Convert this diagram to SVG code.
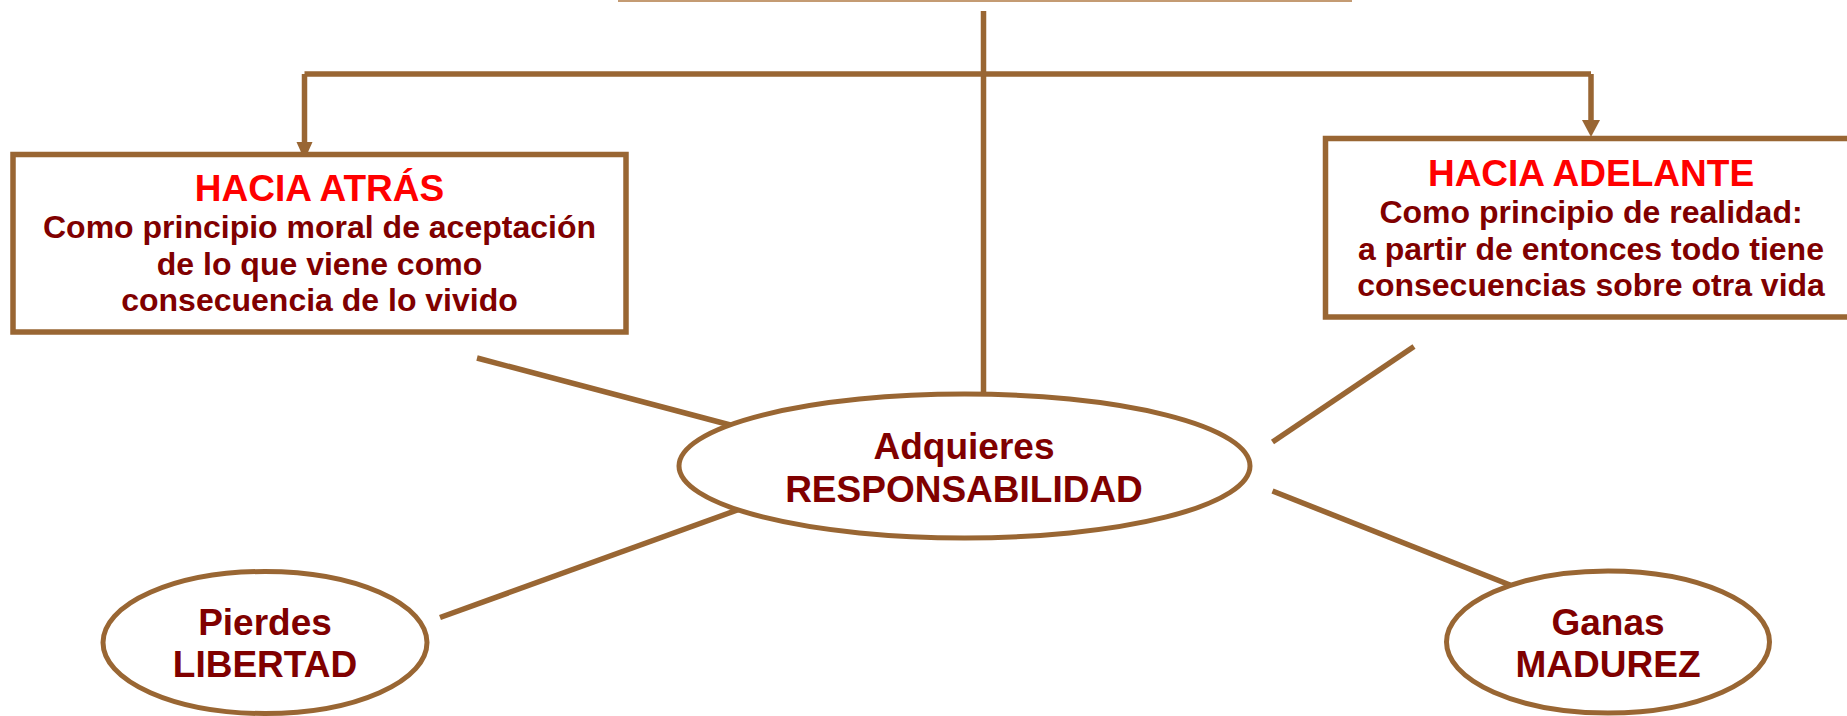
<svg xmlns="http://www.w3.org/2000/svg" width="1847" height="716" viewBox="0 0 1847 716">
<style>
.ln{stroke:#996633;stroke-width:5.5;fill:none}
.box{stroke:#996633;stroke-width:5.5;fill:#ffffff}
.ell{stroke:#996633;stroke-width:5;fill:#ffffff}
text{font-family:"Liberation Sans",Arial,sans-serif;font-weight:bold;text-anchor:middle}
.t{fill:#ff0000;font-size:37px}
.b{fill:#800000;font-size:32px}
.e{fill:#800000;font-size:37px}
</style>
<defs>
<marker id="arr" markerUnits="userSpaceOnUse" markerWidth="18" markerHeight="18" viewBox="0 0 18 18" refX="9" refY="17" orient="auto-start-reverse">
<path d="M1,0 L17,0 L9,17 Z" fill="#996633"/>
</marker>
</defs>
<rect width="1847" height="716" fill="#ffffff"/>
<line x1="618" y1="1" x2="1352" y2="1" stroke="#b07a45" stroke-width="1.5"/>
<g id="connectors">
<line class="ln" x1="983.5" y1="11" x2="983.5" y2="392"/>
<path class="ln" d="M304.5,74 L1591,74"/>
<line class="ln" x1="304.5" y1="74" x2="304.5" y2="142" />
<path d="M296.5,142 L312.5,142 L304.5,160 Z" fill="#996633"/>
<line class="ln" x1="1591" y1="74" x2="1591" y2="120"/>
<path d="M1582,120 L1600,120 L1591,137 Z" fill="#996633"/>
<line class="ln" x1="477" y1="358" x2="736" y2="426.5"/>
<line class="ln" x1="440" y1="617.5" x2="743" y2="508"/>
<line class="ln" x1="1272.5" y1="442" x2="1414" y2="346.5"/>
<line class="ln" x1="1272.5" y1="491" x2="1510" y2="585"/>
</g>
<g id="node-atras">
<rect class="box" x="13" y="154.5" width="613" height="177.5"/>
<text class="t" x="319.5" y="201">HACIA ATRÁS</text>
<text class="b" x="319.5" y="238">Como principio moral de aceptación</text>
<text class="b" x="319.5" y="275">de lo que viene como</text>
<text class="b" x="319.5" y="311">consecuencia de lo vivido</text>
</g>
<g id="node-adelante">
<rect class="box" x="1325.5" y="138.5" width="532" height="178.5"/>
<text class="t" x="1591" y="186">HACIA ADELANTE</text>
<text class="b" x="1591" y="223">Como principio de realidad:</text>
<text class="b" x="1591" y="259.5">a partir de entonces todo tiene</text>
<text class="b" x="1591" y="296">consecuencias sobre otra vida</text>
</g>
<g id="node-responsabilidad">
<ellipse class="ell" cx="964.5" cy="466" rx="285.5" ry="72"/>
<text class="e" x="964" y="459">Adquieres</text>
<text class="e" x="964" y="501.5">RESPONSABILIDAD</text>
</g>
<g id="node-libertad">
<ellipse class="ell" cx="265" cy="642.5" rx="162" ry="71"/>
<text class="e" x="265" y="635">Pierdes</text>
<text class="e" x="265" y="676.5">LIBERTAD</text>
</g>
<g id="node-madurez">
<ellipse class="ell" cx="1608" cy="642" rx="161.5" ry="71"/>
<text class="e" x="1608" y="635">Ganas</text>
<text class="e" x="1608" y="676.5">MADUREZ</text>
</g>
</svg>
